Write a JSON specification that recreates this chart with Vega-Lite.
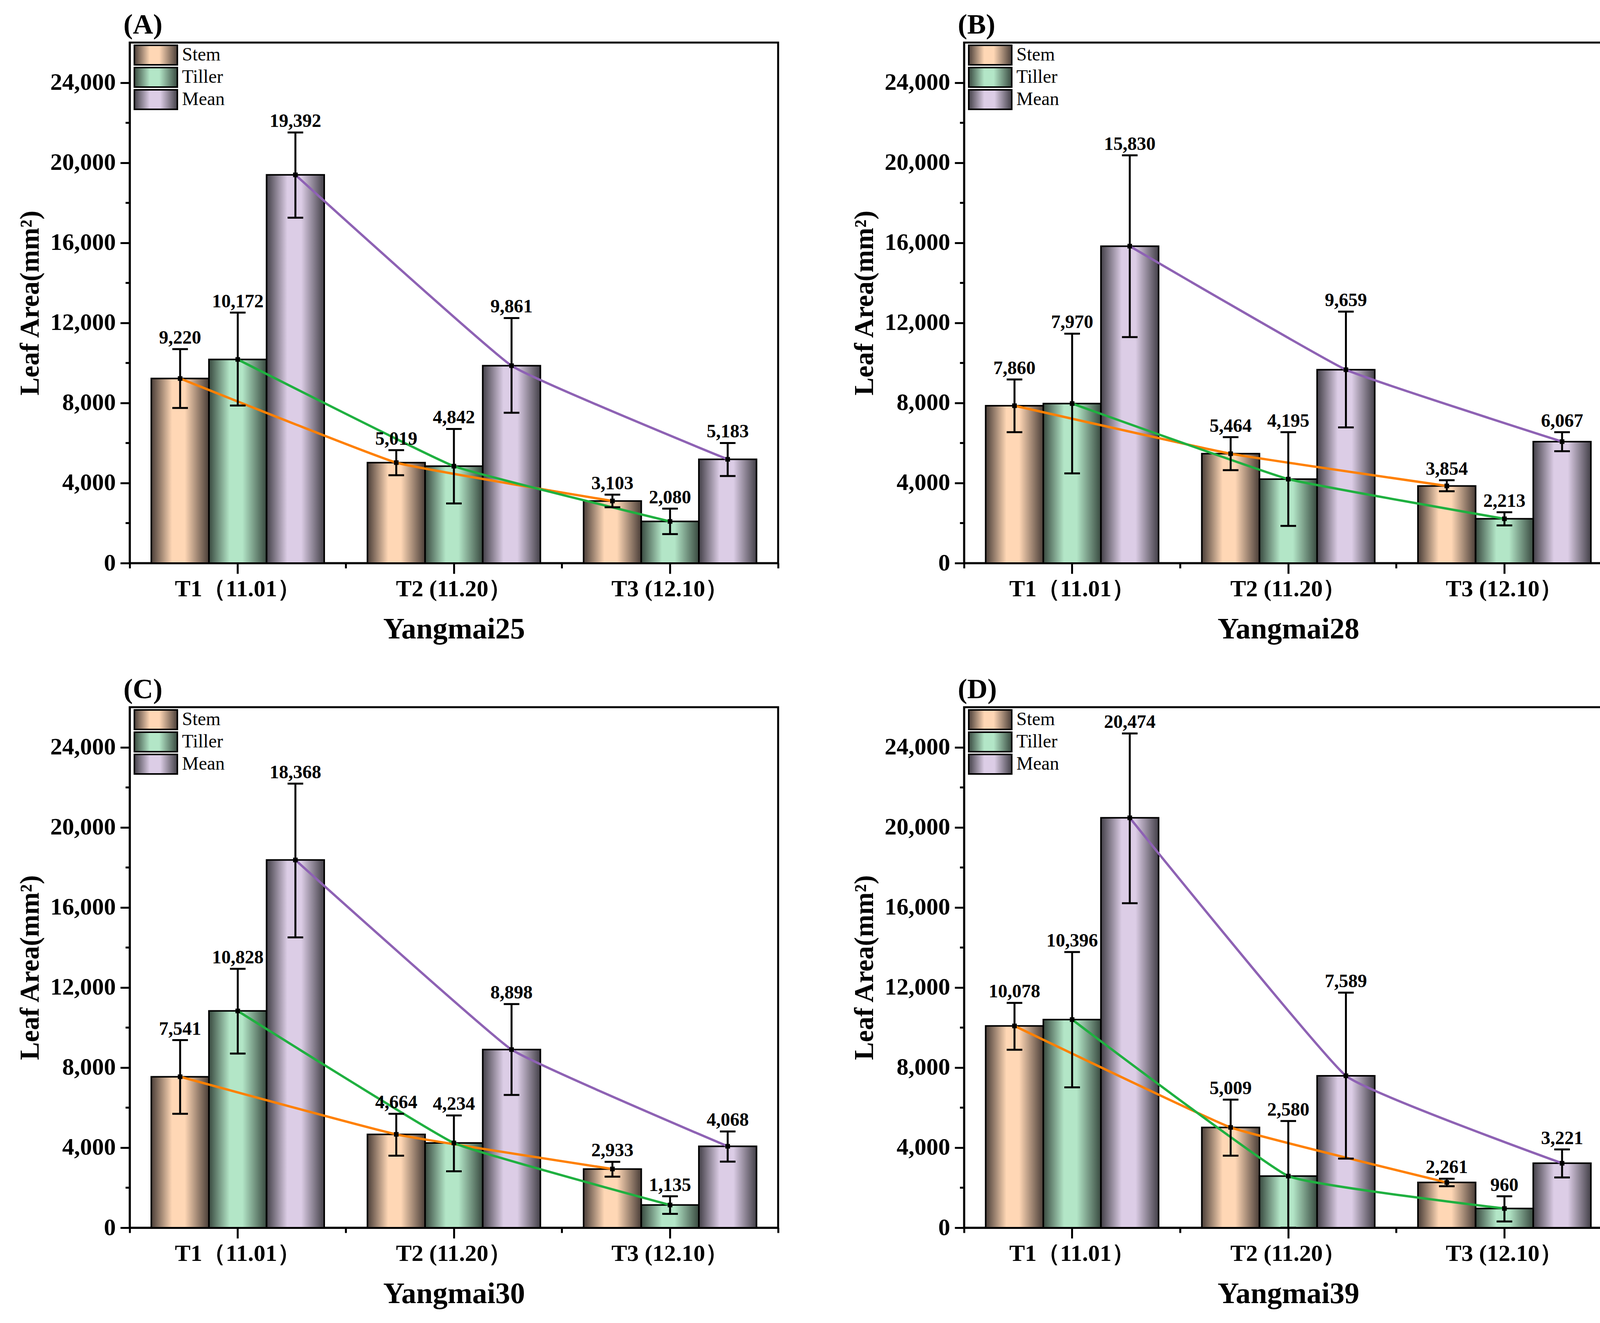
{
  "$schema": "https://vega.github.io/schema/vega-lite/v6.json",
  "padding": {"left": 40, "top": 25, "right": 20, "bottom": 20},
  "background": "white",
  "datasets": {
    "d": [
      {"p": "A", "t": "T1（11.01）", "s": "Stem", "val": 9220, "lo": 7750, "hi": 10690},
      {"p": "A", "t": "T1（11.01）", "s": "Tiller", "val": 10172, "lo": 7870, "hi": 12510},
      {"p": "A", "t": "T1（11.01）", "s": "Mean", "val": 19392, "lo": 17250, "hi": 21510},
      {"p": "A", "t": "T2 (11.20）", "s": "Stem", "val": 5019, "lo": 4390, "hi": 5640},
      {"p": "A", "t": "T2 (11.20）", "s": "Tiller", "val": 4842, "lo": 2980, "hi": 6700},
      {"p": "A", "t": "T2 (11.20）", "s": "Mean", "val": 9861, "lo": 7510, "hi": 12240},
      {"p": "A", "t": "T3 (12.10）", "s": "Stem", "val": 3103, "lo": 2790, "hi": 3420},
      {"p": "A", "t": "T3 (12.10）", "s": "Tiller", "val": 2080, "lo": 1450, "hi": 2720},
      {"p": "A", "t": "T3 (12.10）", "s": "Mean", "val": 5183, "lo": 4350, "hi": 6000},

      {"p": "B", "t": "T1（11.01）", "s": "Stem", "val": 7860, "lo": 6540, "hi": 9170},
      {"p": "B", "t": "T1（11.01）", "s": "Tiller", "val": 7970, "lo": 4480, "hi": 11460},
      {"p": "B", "t": "T1（11.01）", "s": "Mean", "val": 15830, "lo": 11290, "hi": 20370},
      {"p": "B", "t": "T2 (11.20）", "s": "Stem", "val": 5464, "lo": 4640, "hi": 6290},
      {"p": "B", "t": "T2 (11.20）", "s": "Tiller", "val": 4195, "lo": 1860, "hi": 6540},
      {"p": "B", "t": "T2 (11.20）", "s": "Mean", "val": 9659, "lo": 6780, "hi": 12560},
      {"p": "B", "t": "T3 (12.10）", "s": "Stem", "val": 3854, "lo": 3590, "hi": 4140},
      {"p": "B", "t": "T3 (12.10）", "s": "Tiller", "val": 2213, "lo": 1880, "hi": 2540},
      {"p": "B", "t": "T3 (12.10）", "s": "Mean", "val": 6067, "lo": 5590, "hi": 6540},

      {"p": "C", "t": "T1（11.01）", "s": "Stem", "val": 7541, "lo": 5690, "hi": 9370},
      {"p": "C", "t": "T1（11.01）", "s": "Tiller", "val": 10828, "lo": 8700, "hi": 12930},
      {"p": "C", "t": "T1（11.01）", "s": "Mean", "val": 18368, "lo": 14500, "hi": 22180},
      {"p": "C", "t": "T2 (11.20）", "s": "Stem", "val": 4664, "lo": 3600, "hi": 5690},
      {"p": "C", "t": "T2 (11.20）", "s": "Tiller", "val": 4234, "lo": 2820, "hi": 5610},
      {"p": "C", "t": "T2 (11.20）", "s": "Mean", "val": 8898, "lo": 6630, "hi": 11170},
      {"p": "C", "t": "T3 (12.10）", "s": "Stem", "val": 2933, "lo": 2550, "hi": 3290},
      {"p": "C", "t": "T3 (12.10）", "s": "Tiller", "val": 1135, "lo": 690, "hi": 1570},
      {"p": "C", "t": "T3 (12.10）", "s": "Mean", "val": 4068, "lo": 3300, "hi": 4810},

      {"p": "D", "t": "T1（11.01）", "s": "Stem", "val": 10078, "lo": 8890, "hi": 11230},
      {"p": "D", "t": "T1（11.01）", "s": "Tiller", "val": 10396, "lo": 7010, "hi": 13770},
      {"p": "D", "t": "T1（11.01）", "s": "Mean", "val": 20474, "lo": 16210, "hi": 24690},
      {"p": "D", "t": "T2 (11.20）", "s": "Stem", "val": 5009, "lo": 3600, "hi": 6400},
      {"p": "D", "t": "T2 (11.20）", "s": "Tiller", "val": 2580, "lo": 0, "hi": 5330},
      {"p": "D", "t": "T2 (11.20）", "s": "Mean", "val": 7589, "lo": 3450, "hi": 11740},
      {"p": "D", "t": "T3 (12.10）", "s": "Stem", "val": 2261, "lo": 2070, "hi": 2450},
      {"p": "D", "t": "T3 (12.10）", "s": "Tiller", "val": 960, "lo": 310, "hi": 1570},
      {"p": "D", "t": "T3 (12.10）", "s": "Mean", "val": 3221, "lo": 2510, "hi": 3910}
    ]
  },
  "columns": 2,
  "spacing": {"row": 369, "column": 476},
  "bounds": "flush",
  "resolve": {
    "scale": {"fill": "independent"},
    "legend": {"fill": "independent"}
  },
  "concat": [
    {
      "width": 1660, "height": 1333,
      "title": "(A)",
      "data": {"name": "d"},
      "transform": [{"filter": "datum.p === 'A'"}],
      "encoding": {
        "x": {"field": "t", "type": "nominal", "scale": {"paddingInner": 0.2, "paddingOuter": 0.1}, "axis": null},
        "xOffset": {"field": "s", "type": "nominal", "sort": ["Stem", "Tiller", "Mean"], "scale": {"domain": ["Stem", "Tiller", "Mean"], "paddingInner": 0, "paddingOuter": 0}}
      },
      "resolve": {"axis": {"x": "independent", "y": "independent"}},
      "layer": [
        {
          "mark": {"type": "bar", "opacity": 1, "stroke": "black", "strokeWidth": 4},
          "encoding": {
            "x": {"field": "t", "type": "nominal", "scale": {"paddingInner": 0.2, "paddingOuter": 0.1},
              "axis": {"orient": "bottom", "title": "Yangmai25", "titleFontSize": 76, "titlePadding": 36, "labelFontSize": 60, "labelAngle": 0, "labelLimit": 0, "tickSize": 27, "labelPadding": 10}},
            "y": {"field": "val", "type": "quantitative", "scale": {"domain": [0, 26000], "nice": false},
              "axis": {"orient": "left", "title": "Leaf Area(mm²)", "titleFontSize": 69, "titlePadding": 20, "labelFontSize": 61, "values": [0, 4000, 8000, 12000, 16000, 20000, 24000], "format": ",d", "tickSize": 24, "labelPadding": 12}},
            "fill": {"field": "s", "type": "nominal",
              "scale": {"domain": ["Stem", "Tiller", "Mean"], "range": [
                {"expr": "{gradient: 'linear', x1: 0, y1: 0, x2: 1, y2: 0, stops: [{offset: 0, color: '#4a3e38'}, {offset: 0.36, color: '#ffd7b5'}, {offset: 0.58, color: '#ffd7b5'}, {offset: 1, color: '#4a3e38'}]}"},
                {"expr": "{gradient: 'linear', x1: 0, y1: 0, x2: 1, y2: 0, stops: [{offset: 0, color: '#394a40'}, {offset: 0.36, color: '#b3e6c7'}, {offset: 0.58, color: '#b3e6c7'}, {offset: 1, color: '#394a40'}]}"},
                {"expr": "{gradient: 'linear', x1: 0, y1: 0, x2: 1, y2: 0, stops: [{offset: 0, color: '#434048'}, {offset: 0.36, color: '#dccde6'}, {offset: 0.6, color: '#dccde6'}, {offset: 1, color: '#434048'}]}"}
              ]},
              "legend": {"orient": "top-left", "title": null, "offset": 8, "padding": 0, "symbolType": "M-1,-1.25H4.5V1.25H-1Z", "symbolSize": 1600, "symbolStrokeColor": "black", "symbolStrokeWidth": 4, "symbolOpacity": 1, "labelFont": "Liberation Serif", "labelFontSize": 48, "labelFontWeight": "normal", "labelColor": "black", "labelOffset": 78, "rowPadding": -11}}
          }
        },
        {
          "mark": {"type": "line", "strokeWidth": 6, "interpolate": "cardinal", "tension": 0.7},
          "encoding": {
            "x": {"field": "t", "type": "nominal", "scale": {"paddingInner": 0.2, "paddingOuter": 0.1},
              "axis": {"orient": "bottom", "title": null, "labels": false, "domain": false, "tickSize": 13, "bandPosition": -0.125}},
            "y": {"field": "val", "type": "quantitative",
              "axis": {"orient": "left", "title": null, "labels": false, "domain": false, "tickSize": 11, "values": [2000, 6000, 10000, 14000, 18000, 22000]}},
            "detail": {"field": "s", "type": "nominal"},
            "stroke": {"condition": [{"test": "datum.s === 'Stem'", "value": "#ff8000"}, {"test": "datum.s === 'Tiller'", "value": "#1fb040"}], "value": "#8e62b4"}
          }
        },
        {
          "mark": {"type": "rule", "strokeWidth": 5, "color": "black"},
          "encoding": {
            "x": {"field": "t", "type": "nominal", "scale": {"paddingInner": 0.2, "paddingOuter": 0.1},
              "axis": {"orient": "bottom", "title": null, "labels": false, "domain": false, "tickSize": 13, "bandPosition": 1.125, "values": ["T3 (12.10）"]}},
            "y": {"field": "lo", "type": "quantitative", "axis": null},
            "y2": {"field": "hi"}
          }
        },
        {
          "mark": {"type": "tick", "size": 40, "thickness": 5, "color": "black", "opacity": 1},
          "encoding": {"y": {"field": "hi", "type": "quantitative", "axis": null}}
        },
        {
          "mark": {"type": "tick", "size": 40, "thickness": 5, "color": "black", "opacity": 1},
          "encoding": {"y": {"field": "lo", "type": "quantitative", "axis": null}}
        },
        {
          "mark": {"type": "point", "shape": "square", "filled": true, "size": 140, "color": "black", "opacity": 1},
          "encoding": {"y": {"field": "val", "type": "quantitative", "axis": null}}
        },
        {
          "mark": {"type": "text", "font": "Liberation Serif", "fontWeight": "bold", "fontSize": 48, "baseline": "alphabetic", "dy": -14, "color": "black"},
          "encoding": {
            "y": {"field": "hi", "type": "quantitative", "axis": null},
            "text": {"field": "val", "type": "quantitative", "format": ","}
          }
        }
      ]
    },
    {
      "width": 1660, "height": 1333,
      "title": "(B)",
      "data": {"name": "d"},
      "transform": [{"filter": "datum.p === 'B'"}],
      "encoding": {
        "x": {"field": "t", "type": "nominal", "scale": {"paddingInner": 0.2, "paddingOuter": 0.1}, "axis": null},
        "xOffset": {"field": "s", "type": "nominal", "sort": ["Stem", "Tiller", "Mean"], "scale": {"domain": ["Stem", "Tiller", "Mean"], "paddingInner": 0, "paddingOuter": 0}}
      },
      "resolve": {"axis": {"x": "independent", "y": "independent"}},
      "layer": [
        {
          "mark": {"type": "bar", "opacity": 1, "stroke": "black", "strokeWidth": 4},
          "encoding": {
            "x": {"field": "t", "type": "nominal", "scale": {"paddingInner": 0.2, "paddingOuter": 0.1},
              "axis": {"orient": "bottom", "title": "Yangmai28", "titleFontSize": 76, "titlePadding": 36, "labelFontSize": 60, "labelAngle": 0, "labelLimit": 0, "tickSize": 27, "labelPadding": 10}},
            "y": {"field": "val", "type": "quantitative", "scale": {"domain": [0, 26000], "nice": false},
              "axis": {"orient": "left", "title": "Leaf Area(mm²)", "titleFontSize": 69, "titlePadding": 20, "labelFontSize": 61, "values": [0, 4000, 8000, 12000, 16000, 20000, 24000], "format": ",d", "tickSize": 24, "labelPadding": 12}},
            "fill": {"field": "s", "type": "nominal",
              "scale": {"domain": ["Stem", "Tiller", "Mean"], "range": [
                {"expr": "{gradient: 'linear', x1: 0, y1: 0, x2: 1, y2: 0, stops: [{offset: 0, color: '#4a3e38'}, {offset: 0.36, color: '#ffd7b5'}, {offset: 0.58, color: '#ffd7b5'}, {offset: 1, color: '#4a3e38'}]}"},
                {"expr": "{gradient: 'linear', x1: 0, y1: 0, x2: 1, y2: 0, stops: [{offset: 0, color: '#394a40'}, {offset: 0.36, color: '#b3e6c7'}, {offset: 0.58, color: '#b3e6c7'}, {offset: 1, color: '#394a40'}]}"},
                {"expr": "{gradient: 'linear', x1: 0, y1: 0, x2: 1, y2: 0, stops: [{offset: 0, color: '#434048'}, {offset: 0.36, color: '#dccde6'}, {offset: 0.6, color: '#dccde6'}, {offset: 1, color: '#434048'}]}"}
              ]},
              "legend": {"orient": "top-left", "title": null, "offset": 8, "padding": 0, "symbolType": "M-1,-1.25H4.5V1.25H-1Z", "symbolSize": 1600, "symbolStrokeColor": "black", "symbolStrokeWidth": 4, "symbolOpacity": 1, "labelFont": "Liberation Serif", "labelFontSize": 48, "labelFontWeight": "normal", "labelColor": "black", "labelOffset": 78, "rowPadding": -11}}
          }
        },
        {
          "mark": {"type": "line", "strokeWidth": 6, "interpolate": "cardinal", "tension": 0.7},
          "encoding": {
            "x": {"field": "t", "type": "nominal", "scale": {"paddingInner": 0.2, "paddingOuter": 0.1},
              "axis": {"orient": "bottom", "title": null, "labels": false, "domain": false, "tickSize": 13, "bandPosition": -0.125}},
            "y": {"field": "val", "type": "quantitative",
              "axis": {"orient": "left", "title": null, "labels": false, "domain": false, "tickSize": 11, "values": [2000, 6000, 10000, 14000, 18000, 22000]}},
            "detail": {"field": "s", "type": "nominal"},
            "stroke": {"condition": [{"test": "datum.s === 'Stem'", "value": "#ff8000"}, {"test": "datum.s === 'Tiller'", "value": "#1fb040"}], "value": "#8e62b4"}
          }
        },
        {
          "mark": {"type": "rule", "strokeWidth": 5, "color": "black"},
          "encoding": {
            "x": {"field": "t", "type": "nominal", "scale": {"paddingInner": 0.2, "paddingOuter": 0.1},
              "axis": {"orient": "bottom", "title": null, "labels": false, "domain": false, "tickSize": 13, "bandPosition": 1.125, "values": ["T3 (12.10）"]}},
            "y": {"field": "lo", "type": "quantitative", "axis": null},
            "y2": {"field": "hi"}
          }
        },
        {
          "mark": {"type": "tick", "size": 40, "thickness": 5, "color": "black", "opacity": 1},
          "encoding": {"y": {"field": "hi", "type": "quantitative", "axis": null}}
        },
        {
          "mark": {"type": "tick", "size": 40, "thickness": 5, "color": "black", "opacity": 1},
          "encoding": {"y": {"field": "lo", "type": "quantitative", "axis": null}}
        },
        {
          "mark": {"type": "point", "shape": "square", "filled": true, "size": 140, "color": "black", "opacity": 1},
          "encoding": {"y": {"field": "val", "type": "quantitative", "axis": null}}
        },
        {
          "mark": {"type": "text", "font": "Liberation Serif", "fontWeight": "bold", "fontSize": 48, "baseline": "alphabetic", "dy": -14, "color": "black"},
          "encoding": {
            "y": {"field": "hi", "type": "quantitative", "axis": null},
            "text": {"field": "val", "type": "quantitative", "format": ","}
          }
        }
      ]
    },
    {
      "width": 1660, "height": 1333,
      "title": "(C)",
      "data": {"name": "d"},
      "transform": [{"filter": "datum.p === 'C'"}],
      "encoding": {
        "x": {"field": "t", "type": "nominal", "scale": {"paddingInner": 0.2, "paddingOuter": 0.1}, "axis": null},
        "xOffset": {"field": "s", "type": "nominal", "sort": ["Stem", "Tiller", "Mean"], "scale": {"domain": ["Stem", "Tiller", "Mean"], "paddingInner": 0, "paddingOuter": 0}}
      },
      "resolve": {"axis": {"x": "independent", "y": "independent"}},
      "layer": [
        {
          "mark": {"type": "bar", "opacity": 1, "stroke": "black", "strokeWidth": 4},
          "encoding": {
            "x": {"field": "t", "type": "nominal", "scale": {"paddingInner": 0.2, "paddingOuter": 0.1},
              "axis": {"orient": "bottom", "title": "Yangmai30", "titleFontSize": 76, "titlePadding": 36, "labelFontSize": 60, "labelAngle": 0, "labelLimit": 0, "tickSize": 27, "labelPadding": 10}},
            "y": {"field": "val", "type": "quantitative", "scale": {"domain": [0, 26000], "nice": false},
              "axis": {"orient": "left", "title": "Leaf Area(mm²)", "titleFontSize": 69, "titlePadding": 20, "labelFontSize": 61, "values": [0, 4000, 8000, 12000, 16000, 20000, 24000], "format": ",d", "tickSize": 24, "labelPadding": 12}},
            "fill": {"field": "s", "type": "nominal",
              "scale": {"domain": ["Stem", "Tiller", "Mean"], "range": [
                {"expr": "{gradient: 'linear', x1: 0, y1: 0, x2: 1, y2: 0, stops: [{offset: 0, color: '#4a3e38'}, {offset: 0.36, color: '#ffd7b5'}, {offset: 0.58, color: '#ffd7b5'}, {offset: 1, color: '#4a3e38'}]}"},
                {"expr": "{gradient: 'linear', x1: 0, y1: 0, x2: 1, y2: 0, stops: [{offset: 0, color: '#394a40'}, {offset: 0.36, color: '#b3e6c7'}, {offset: 0.58, color: '#b3e6c7'}, {offset: 1, color: '#394a40'}]}"},
                {"expr": "{gradient: 'linear', x1: 0, y1: 0, x2: 1, y2: 0, stops: [{offset: 0, color: '#434048'}, {offset: 0.36, color: '#dccde6'}, {offset: 0.6, color: '#dccde6'}, {offset: 1, color: '#434048'}]}"}
              ]},
              "legend": {"orient": "top-left", "title": null, "offset": 8, "padding": 0, "symbolType": "M-1,-1.25H4.5V1.25H-1Z", "symbolSize": 1600, "symbolStrokeColor": "black", "symbolStrokeWidth": 4, "symbolOpacity": 1, "labelFont": "Liberation Serif", "labelFontSize": 48, "labelFontWeight": "normal", "labelColor": "black", "labelOffset": 78, "rowPadding": -11}}
          }
        },
        {
          "mark": {"type": "line", "strokeWidth": 6, "interpolate": "cardinal", "tension": 0.7},
          "encoding": {
            "x": {"field": "t", "type": "nominal", "scale": {"paddingInner": 0.2, "paddingOuter": 0.1},
              "axis": {"orient": "bottom", "title": null, "labels": false, "domain": false, "tickSize": 13, "bandPosition": -0.125}},
            "y": {"field": "val", "type": "quantitative",
              "axis": {"orient": "left", "title": null, "labels": false, "domain": false, "tickSize": 11, "values": [2000, 6000, 10000, 14000, 18000, 22000]}},
            "detail": {"field": "s", "type": "nominal"},
            "stroke": {"condition": [{"test": "datum.s === 'Stem'", "value": "#ff8000"}, {"test": "datum.s === 'Tiller'", "value": "#1fb040"}], "value": "#8e62b4"}
          }
        },
        {
          "mark": {"type": "rule", "strokeWidth": 5, "color": "black"},
          "encoding": {
            "x": {"field": "t", "type": "nominal", "scale": {"paddingInner": 0.2, "paddingOuter": 0.1},
              "axis": {"orient": "bottom", "title": null, "labels": false, "domain": false, "tickSize": 13, "bandPosition": 1.125, "values": ["T3 (12.10）"]}},
            "y": {"field": "lo", "type": "quantitative", "axis": null},
            "y2": {"field": "hi"}
          }
        },
        {
          "mark": {"type": "tick", "size": 40, "thickness": 5, "color": "black", "opacity": 1},
          "encoding": {"y": {"field": "hi", "type": "quantitative", "axis": null}}
        },
        {
          "mark": {"type": "tick", "size": 40, "thickness": 5, "color": "black", "opacity": 1},
          "encoding": {"y": {"field": "lo", "type": "quantitative", "axis": null}}
        },
        {
          "mark": {"type": "point", "shape": "square", "filled": true, "size": 140, "color": "black", "opacity": 1},
          "encoding": {"y": {"field": "val", "type": "quantitative", "axis": null}}
        },
        {
          "mark": {"type": "text", "font": "Liberation Serif", "fontWeight": "bold", "fontSize": 48, "baseline": "alphabetic", "dy": -14, "color": "black"},
          "encoding": {
            "y": {"field": "hi", "type": "quantitative", "axis": null},
            "text": {"field": "val", "type": "quantitative", "format": ","}
          }
        }
      ]
    },
    {
      "width": 1660, "height": 1333,
      "title": "(D)",
      "data": {"name": "d"},
      "transform": [{"filter": "datum.p === 'D'"}],
      "encoding": {
        "x": {"field": "t", "type": "nominal", "scale": {"paddingInner": 0.2, "paddingOuter": 0.1}, "axis": null},
        "xOffset": {"field": "s", "type": "nominal", "sort": ["Stem", "Tiller", "Mean"], "scale": {"domain": ["Stem", "Tiller", "Mean"], "paddingInner": 0, "paddingOuter": 0}}
      },
      "resolve": {"axis": {"x": "independent", "y": "independent"}},
      "layer": [
        {
          "mark": {"type": "bar", "opacity": 1, "stroke": "black", "strokeWidth": 4},
          "encoding": {
            "x": {"field": "t", "type": "nominal", "scale": {"paddingInner": 0.2, "paddingOuter": 0.1},
              "axis": {"orient": "bottom", "title": "Yangmai39", "titleFontSize": 76, "titlePadding": 36, "labelFontSize": 60, "labelAngle": 0, "labelLimit": 0, "tickSize": 27, "labelPadding": 10}},
            "y": {"field": "val", "type": "quantitative", "scale": {"domain": [0, 26000], "nice": false},
              "axis": {"orient": "left", "title": "Leaf Area(mm²)", "titleFontSize": 69, "titlePadding": 20, "labelFontSize": 61, "values": [0, 4000, 8000, 12000, 16000, 20000, 24000], "format": ",d", "tickSize": 24, "labelPadding": 12}},
            "fill": {"field": "s", "type": "nominal",
              "scale": {"domain": ["Stem", "Tiller", "Mean"], "range": [
                {"expr": "{gradient: 'linear', x1: 0, y1: 0, x2: 1, y2: 0, stops: [{offset: 0, color: '#4a3e38'}, {offset: 0.36, color: '#ffd7b5'}, {offset: 0.58, color: '#ffd7b5'}, {offset: 1, color: '#4a3e38'}]}"},
                {"expr": "{gradient: 'linear', x1: 0, y1: 0, x2: 1, y2: 0, stops: [{offset: 0, color: '#394a40'}, {offset: 0.36, color: '#b3e6c7'}, {offset: 0.58, color: '#b3e6c7'}, {offset: 1, color: '#394a40'}]}"},
                {"expr": "{gradient: 'linear', x1: 0, y1: 0, x2: 1, y2: 0, stops: [{offset: 0, color: '#434048'}, {offset: 0.36, color: '#dccde6'}, {offset: 0.6, color: '#dccde6'}, {offset: 1, color: '#434048'}]}"}
              ]},
              "legend": {"orient": "top-left", "title": null, "offset": 8, "padding": 0, "symbolType": "M-1,-1.25H4.5V1.25H-1Z", "symbolSize": 1600, "symbolStrokeColor": "black", "symbolStrokeWidth": 4, "symbolOpacity": 1, "labelFont": "Liberation Serif", "labelFontSize": 48, "labelFontWeight": "normal", "labelColor": "black", "labelOffset": 78, "rowPadding": -11}}
          }
        },
        {
          "mark": {"type": "line", "strokeWidth": 6, "interpolate": "cardinal", "tension": 0.7},
          "encoding": {
            "x": {"field": "t", "type": "nominal", "scale": {"paddingInner": 0.2, "paddingOuter": 0.1},
              "axis": {"orient": "bottom", "title": null, "labels": false, "domain": false, "tickSize": 13, "bandPosition": -0.125}},
            "y": {"field": "val", "type": "quantitative",
              "axis": {"orient": "left", "title": null, "labels": false, "domain": false, "tickSize": 11, "values": [2000, 6000, 10000, 14000, 18000, 22000]}},
            "detail": {"field": "s", "type": "nominal"},
            "stroke": {"condition": [{"test": "datum.s === 'Stem'", "value": "#ff8000"}, {"test": "datum.s === 'Tiller'", "value": "#1fb040"}], "value": "#8e62b4"}
          }
        },
        {
          "mark": {"type": "rule", "strokeWidth": 5, "color": "black"},
          "encoding": {
            "x": {"field": "t", "type": "nominal", "scale": {"paddingInner": 0.2, "paddingOuter": 0.1},
              "axis": {"orient": "bottom", "title": null, "labels": false, "domain": false, "tickSize": 13, "bandPosition": 1.125, "values": ["T3 (12.10）"]}},
            "y": {"field": "lo", "type": "quantitative", "axis": null},
            "y2": {"field": "hi"}
          }
        },
        {
          "mark": {"type": "tick", "size": 40, "thickness": 5, "color": "black", "opacity": 1},
          "encoding": {"y": {"field": "hi", "type": "quantitative", "axis": null}}
        },
        {
          "mark": {"type": "tick", "size": 40, "thickness": 5, "color": "black", "opacity": 1},
          "encoding": {"y": {"field": "lo", "type": "quantitative", "axis": null}}
        },
        {
          "mark": {"type": "point", "shape": "square", "filled": true, "size": 140, "color": "black", "opacity": 1},
          "encoding": {"y": {"field": "val", "type": "quantitative", "axis": null}}
        },
        {
          "mark": {"type": "text", "font": "Liberation Serif", "fontWeight": "bold", "fontSize": 48, "baseline": "alphabetic", "dy": -14, "color": "black"},
          "encoding": {
            "y": {"field": "hi", "type": "quantitative", "axis": null},
            "text": {"field": "val", "type": "quantitative", "format": ","}
          }
        }
      ]
    }
  ],
  "config": {
    "view": {"stroke": "black", "strokeWidth": 5},
    "font": "Liberation Serif",
    "axis": {
      "grid": false,
      "domainColor": "black", "domainWidth": 5,
      "tickColor": "black", "tickWidth": 5,
      "labelColor": "black", "titleColor": "black",
      "labelFont": "Liberation Serif", "titleFont": "Liberation Serif",
      "labelFontWeight": "bold", "titleFontWeight": "bold"
    },
    "title": {"anchor": "start", "frame": "group", "font": "Liberation Serif", "fontSize": 72, "fontWeight": "bold", "color": "black", "offset": 8, "dx": -16}
  }
}
